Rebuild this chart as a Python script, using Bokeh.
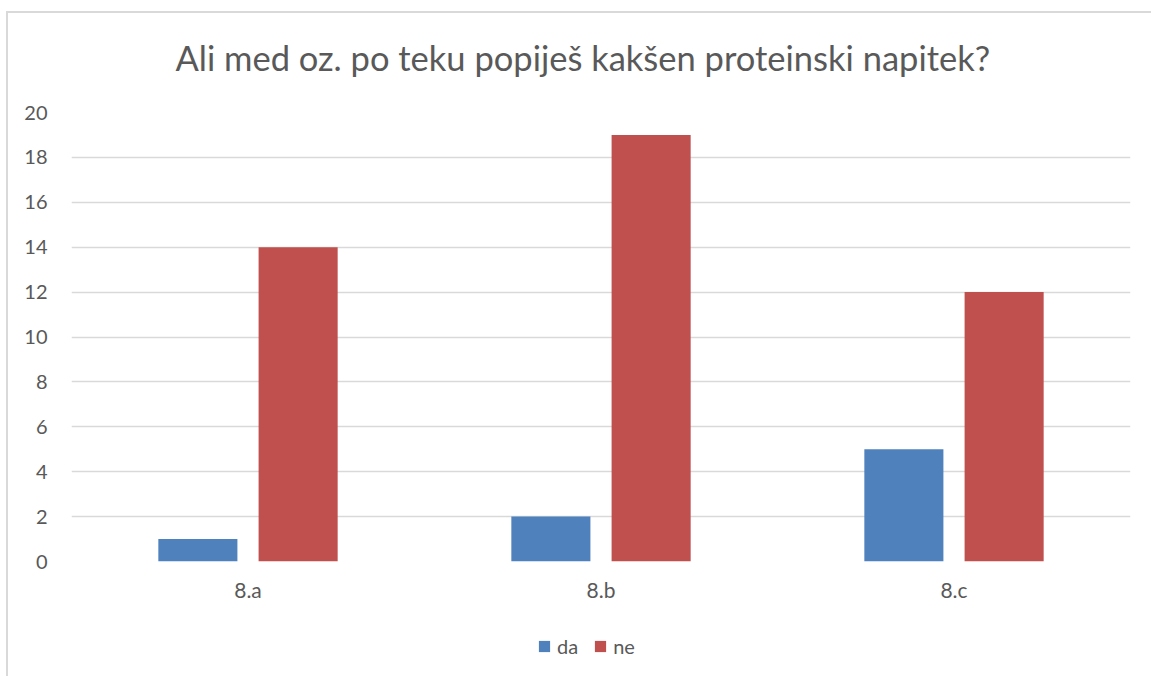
from bokeh.plotting import figure
from bokeh.layouts import column
from bokeh.models import FactorRange, Range1d, FixedTicker, Legend, LegendItem, ColumnDataSource
from bokeh.transform import dodge
from bokeh.embed import file_html
from bokeh.resources import INLINE

categories = ["8.a", "8.b", "8.c"]
da = [1, 2, 5]
ne = [14, 19, 12]
series_names = ["da", "ne"]
series_colors = ["#4F81BD", "#C0504D"]
y_ticks = [0, 2, 4, 6, 8, 10, 12, 14, 16, 18, 20]

FONT = "Lato"
TXT = "#595959"
GRID = "#d9d9d9"

src = ColumnDataSource(dict(cat=categories, da=da, ne=ne))

p = figure(width=1151, height=620, output_backend="svg", toolbar_location=None,
           x_range=FactorRange(factors=categories, range_padding=0),
           y_range=Range1d(0, 20),
           min_border_left=71, min_border_right=21, min_border_top=111, min_border_bottom=59,
           title="Ali med oz. po teku popiješ kakšen proteinski napitek?")
p.border_fill_color = None
p.background_fill_color = None

p.title.align = "left"
p.title.offset = 104
p.title.text_font = FONT
p.title.text_font_size = "34.5px"
p.title.text_font_style = "normal"
p.title.text_color = TXT
p.title.standoff = 69

p.vbar(x=dodge("cat", -0.142, range=p.x_range), top="da", width=0.224, source=src,
       fill_color=series_colors[0], line_color=None)
p.vbar(x=dodge("cat", 0.142, range=p.x_range), top="ne", width=0.224, source=src,
       fill_color=series_colors[1], line_color=None)

p.outline_line_color = None
p.xgrid.grid_line_color = None
p.ygrid.grid_line_color = GRID
p.ygrid.grid_line_width = 1.3
p.yaxis.ticker = FixedTicker(ticks=y_ticks)

for ax in (p.xaxis, p.yaxis):
    ax.axis_line_color = None
    ax.major_tick_line_color = None
    ax.minor_tick_line_color = None
    ax.major_label_text_font = FONT
    ax.major_label_text_color = TXT
p.yaxis.major_label_text_font_size = "20px"
p.xaxis.major_label_text_font_size = "21px"
p.yaxis.major_label_standoff = 18
p.xaxis.major_label_standoff = 9

# legend strip below the chart (its renderers are zero-width and out of range; only the legend shows)
lf = figure(width=1151, height=57, output_backend="svg", toolbar_location=None,
            x_range=FactorRange(factors=categories), y_range=Range1d(100, 101),
            x_axis_location=None, y_axis_location=None,
            min_border_left=0, min_border_right=0, min_border_top=0, min_border_bottom=0)
lf.border_fill_color = None
lf.background_fill_color = None
lf.outline_line_color = None
lf.grid.grid_line_color = None
items = []
for name, col in zip(series_names, series_colors):
    rr = lf.vbar(x="cat", top=name, width=0, source=src, fill_color=col, line_color=None)
    items.append(LegendItem(label=name, renderers=[rr]))

legend = Legend(items=items, orientation="horizontal", location=(466, 19))
legend.label_text_font = FONT
legend.label_text_font_size = "20px"
legend.label_text_color = TXT
legend.glyph_width = 14
legend.glyph_height = 14
legend.label_standoff = 6
legend.spacing = 15
legend.padding = 0
legend.margin = 0
legend.border_line_color = None
legend.background_fill_alpha = 0
lf.add_layout(legend, "center")

layout = column(p, lf, spacing=0)
layout.styles = {
    "background-color": "white",
    "background-image": "linear-gradient(#d9d9d9, #d9d9d9), linear-gradient(#d9d9d9, #d9d9d9)",
    "background-size": "1145px 2px, 2px 665px",
    "background-position": "6px 11px, 6px 11px",
    "background-repeat": "no-repeat",
}
open("out.html", "w").write(file_html(layout, INLINE))
